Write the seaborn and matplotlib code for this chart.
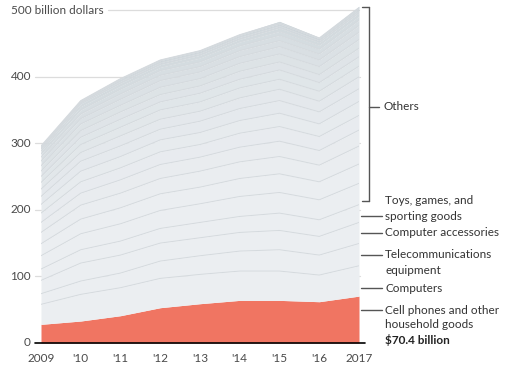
import numpy as np
import pandas as pd
import matplotlib
matplotlib.use("Agg")
import matplotlib.pyplot as plt
import seaborn as sns

years = [2009, 2010, 2011, 2012, 2013, 2014, 2015, 2016, 2017]
year_labels = ["2009", "'10", "'11", "'12", "'13", "'14", "'15", "'16", "2017"]

# named categories (billion dollars), bottom to top
cell_phones = [28, 33, 41, 53, 59, 64, 64, 62, 70.4]
computers = [30, 40, 42, 44, 44, 44, 44, 40, 45.5]
telecom = [16, 20, 22, 26, 28, 30, 32, 30, 33.5]
computer_acc = [20, 27, 27, 27, 27, 28, 29, 28, 31.6]
toys = [17, 20, 21, 22, 23, 24, 26, 25, 26.7]

# "Others" sub-categories, bottom to top
others = [
    [20, 24, 26, 27, 28, 30, 31, 30, 32],
    [18, 22, 24, 25, 25, 27, 28, 27, 29],
    [17, 21, 22, 23, 24, 25, 26, 25, 27],
    [15, 18, 20, 21, 21, 22, 23, 22, 24],
    [14, 17, 18, 19, 19, 21, 22, 21, 22],
    [13, 16, 17, 18, 18, 19, 20, 19, 21],
    [12, 15, 16, 16, 17, 18, 19, 18, 19],
    [11, 13, 15, 15, 15, 16, 17, 16, 18],
    [10, 12, 13, 14, 14, 15, 15, 15, 16],
    [9, 11, 12, 12, 13, 13, 14, 13, 14],
    [8, 10, 11, 11, 11, 12, 12, 12, 13],
    [8, 10, 10, 11, 11, 12, 12, 12, 13],
    [7, 8, 9, 10, 10, 10, 11, 10, 11],
    [6, 7, 8, 8, 8, 9, 9, 9, 10],
    [5, 6, 7, 7, 7, 7, 8, 7, 8],
    [4, 5, 5, 5, 6, 6, 6, 6, 6],
    [3, 4, 4, 4, 4, 4, 5, 4, 5],
    [2, 2, 3, 3, 3, 3, 3, 3, 3],
    [2, 2, 3, 3, 3, 3, 3, 3, 3],
    [1, 1, 1, 1, 1, 1, 2, 1, 2],
    [1, 1, 1, 1, 1, 1, 2, 1, 2],
]

y_ticks = [0, 100, 200, 300, 400, 500]
y_tick_labels = ["0", "100", "200", "300", "400", "500 billion dollars"]

sns.set_style("white")
plt.rcParams["font.family"] = ["Lato", "DejaVu Sans"]

W, H = 506, 370
fig = plt.figure(figsize=(W / 100, H / 100), dpi=100)
fx = lambda x: x / W
fy = lambda y: 1 - y / H

ax_left, ax_right = 41, 359
y0_px, y500_px = 343, 10
ymax = 510
ppu = (y0_px - y500_px) / 500.0
ax_top_px = y0_px - ymax * ppu
ax = fig.add_axes([fx(ax_left), fy(y0_px), (ax_right - ax_left) / W, (y0_px - ax_top_px) / H])
ax.set_xlim(2009, 2017)
ax.set_ylim(0, ymax)

layers = [cell_phones, computers, telecom, computer_acc, toys] + others
arr = np.array(layers, dtype=float)
cum = np.cumsum(arr, axis=0)

n_oth = len(others)
c_lo = np.array([0xeb, 0xee, 0xf1]) / 255
c_hi = np.array([0xc8, 0xd2, 0xd7]) / 255
fills = ["#f07562"] + ["#ebeef1"] * 4 + [
    tuple(c_lo + (c_hi - c_lo) * (i / (n_oth - 1)) ** 1.5) for i in range(n_oth)
]

prev = np.zeros(len(years))
for i, (top, col) in enumerate(zip(cum, fills)):
    ax.fill_between(years, prev, top, color=col, lw=0, zorder=2)
    prev = top

# boundary lines via seaborn
rows = []
for i in range(1, len(cum) - 1):
    for yr, v in zip(years, cum[i]):
        rows.append({"year": yr, "value": v, "layer": f"L{i}"})
df = pd.DataFrame(rows)
sns.lineplot(data=df, x="year", y="value", hue="layer",
             palette=["#d5dade"] * (len(cum) - 2), legend=False, lw=0.7,
             ax=ax, zorder=3)

# gridlines behind area
px_per_year = (ax_right - ax_left) / 8
for t in y_ticks[1:-1]:
    ax.plot([2009 - 6 / px_per_year, 2017 + 1 / px_per_year], [t, t], color="#dcdcdc",
            lw=0.9, zorder=1, clip_on=False)
ax.plot([2009 + (108 - ax_left) / px_per_year, 2017], [500, 500], color="#dcdcdc",
        lw=0.9, zorder=1, clip_on=False)

# y labels
tc = "#4a4a4a"
fs = 8.5
for t, lab in zip(y_ticks[:-1], y_tick_labels[:-1]):
    fig.text(fx(31), fy(y0_px - t * ppu), lab, ha="right", va="center", fontsize=fs, color=tc)
fig.text(fx(11), fy(y500_px), y_tick_labels[-1], ha="left", va="center", fontsize=fs, color=tc)

# x axis
ax.plot([2009 - 6 / px_per_year, 2017 + 6 / px_per_year], [0, 0], color="black", lw=1.2,
        zorder=5, clip_on=False)
ax.set_xticks(years)
ax.set_xticklabels(year_labels, fontsize=fs, color=tc)
ax.tick_params(axis="x", length=5, width=1, color="black", pad=2, direction="out")
ax.set_yticks([])
ax.set_xlabel("")
ax.set_ylabel("")
for s in ax.spines.values():
    s.set_visible(False)

# right annotations
lc = "#555555"
txc = "#333333"

def hline(x1, x2, y):
    fig.add_artist(plt.Line2D([fx(x1), fx(x2)], [fy(y), fy(y)], color=lc, lw=1))

def vline(x, y1, y2):
    fig.add_artist(plt.Line2D([fx(x), fx(x)], [fy(y1), fy(y2)], color=lc, lw=1))

hline(362, 369, 7)
hline(362, 369, 201)
vline(369, 7, 201)
hline(369, 379, 107)
fig.text(fx(384), fy(107), "Others", ha="left", va="center", fontsize=fs, color=txc)

hline(361, 382, 216)
fig.text(fx(385), fy(200), "Toys, games, and", ha="left", va="center", fontsize=fs, color=txc)
fig.text(fx(385), fy(216), "sporting goods", ha="left", va="center", fontsize=fs, color=txc)

hline(361, 382, 233)
fig.text(fx(385), fy(233), "Computer accessories", ha="left", va="center", fontsize=fs, color=txc)

hline(361, 382, 255)
fig.text(fx(385), fy(254), "Telecommunications", ha="left", va="center", fontsize=fs, color=txc)
fig.text(fx(385), fy(270), "equipment", ha="left", va="center", fontsize=fs, color=txc)

hline(361, 382, 288)
fig.text(fx(385), fy(288), "Computers", ha="left", va="center", fontsize=fs, color=txc)

hline(361, 382, 310)
fig.text(fx(385), fy(310), "Cell phones and other", ha="left", va="center", fontsize=fs, color=txc)
fig.text(fx(385), fy(325), "household goods", ha="left", va="center", fontsize=fs, color=txc)
fig.text(fx(385), fy(340), "$70.4 billion", ha="left", va="center", fontsize=fs, color="#222222",
         fontweight="bold")

fig.savefig("out.png", dpi=100)
